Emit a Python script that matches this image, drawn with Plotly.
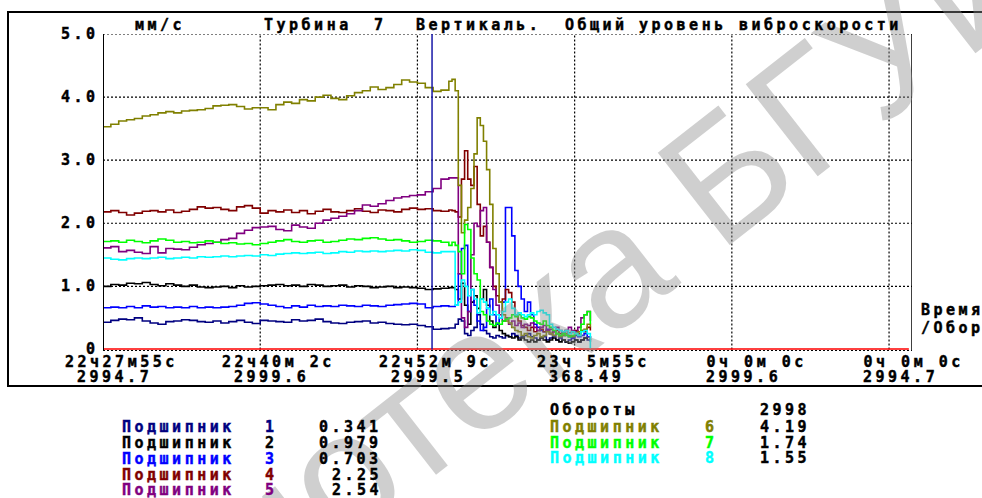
import plotly.graph_objects as go

# ---------------- data ----------------
# sample positions along the time axis, in grid divisions
x_pre = [round(0.05 * i, 2) for i in range(45)]
x_post = [round(2.22 + 0.02 * i, 2) for i in range(45)]
t = x_pre + x_post

s1_pre = [0.43,0.46,0.48,0.47,0.50, 0.45,0.42,0.40,0.44,0.45, 0.47,0.46,0.44,0.43,0.45,
          0.42,0.44,0.46,0.43,0.41, 0.46,0.45,0.44,0.43,0.47, 0.45,0.46,0.48,0.44,0.42,
          0.41,0.43,0.44,0.45,0.42, 0.43,0.41,0.40,0.39,0.40, 0.38,0.36,0.32,0.33,0.34]
s1_post = [0.34,0.40,0.48,0.45,0.25, 0.22,0.30,0.35,0.55,0.40, 0.30,0.25,0.20,0.18,0.22,
           0.20,0.18,0.22,0.20,0.25, 0.22,0.18,0.20,0.22,0.25, 0.20,0.18,0.15,0.18,0.20,
           0.15,0.18,0.20,0.15,0.18, 0.15,0.12,0.15,0.18,0.15, 0.12,0.15,0.18,0.15,0.12]

s2_pre = [1.00,1.03,1.02,1.05,1.04, 1.06,1.03,1.01,1.04,1.02, 1.00,1.02,0.99,0.98,0.99,
          1.00,0.98,1.01,0.99,1.00, 1.01,1.02,1.03,1.01,1.02, 1.00,1.03,1.02,1.00,1.01,
          1.02,0.99,1.01,1.00,0.98, 0.99,1.00,0.98,0.99,0.98, 0.97,0.95,0.96,0.97,0.98]
s2_post = [0.98,0.95,0.80,1.05,0.70, 0.40,0.75,0.85,0.65,0.80, 0.95,0.70,0.45,0.35,0.40,
           0.30,0.25,0.22,0.20,0.18, 0.20,0.15,0.18,0.15,0.12, 0.15,0.12,0.15,0.18,0.15,
           0.12,0.15,0.18,0.15,0.12, 0.15,0.12,0.10,0.12,0.15, 0.12,0.15,0.18,0.20,0.15]

s3_pre = [0.66,0.67,0.66,0.68,0.66, 0.69,0.67,0.68,0.66,0.67, 0.66,0.68,0.66,0.67,0.66,
          0.67,0.68,0.70,0.73,0.74, 0.72,0.70,0.68,0.66,0.69, 0.67,0.70,0.68,0.69,0.68,
          0.70,0.69,0.68,0.70,0.69, 0.68,0.70,0.71,0.72,0.73, 0.72,0.66,0.68,0.69,0.68]
s3_post = [0.68,0.70,1.20,1.60,1.65, 0.60,0.95,0.70,0.45,0.30, 0.35,0.65,0.80,0.55,0.40,
           0.50,0.75,2.25,2.25,1.80, 1.25,1.00,0.80,0.60,0.75, 0.55,0.40,0.35,0.30,0.28,
           0.32,0.25,0.22,0.25,0.20, 0.22,0.25,0.20,0.18,0.22, 0.20,0.22,0.25,0.20,0.18]

s4_pre = [2.18,2.20,2.17,2.13,2.16, 2.19,2.20,2.18,2.21,2.17, 2.19,2.22,2.26,2.24,2.25,
          2.22,2.20,2.26,2.28,2.24, 2.16,2.20,2.18,2.21,2.17, 2.20,2.15,2.19,2.22,2.18,
          2.17,2.20,2.23,2.19,2.17, 2.21,2.20,2.18,2.22,2.24, 2.22,2.23,2.20,2.19,2.21]
s4_post = [2.20,2.18,2.10,2.70,3.15, 2.70,2.60,2.90,2.30,1.80, 1.95,1.70,1.30,1.00,0.85,
           0.75,0.80,0.95,0.90,0.75, 0.55,0.45,0.38,0.35,0.30, 0.35,0.28,0.30,0.32,0.28,
           0.30,0.25,0.28,0.30,0.25, 0.28,0.30,0.26,0.28,0.30, 0.25,0.30,0.28,0.35,0.30]

s5_pre = [1.61,1.63,1.55,1.57,1.54, 1.52,1.63,1.53,1.60,1.59, 1.58,1.62,1.66,1.68,1.70,
          1.74,1.76,1.84,1.89,1.93, 1.94,1.95,1.90,1.88,1.97, 1.94,1.92,2.00,2.05,2.08,
          2.11,2.15,2.20,2.29,2.27, 2.31,2.36,2.40,2.42,2.44, 2.45,2.50,2.55,2.70,2.72]
s5_post = [2.72,2.72,1.20,0.50,0.35, 0.60,1.50,2.00,1.95,2.20, 2.25,1.70,1.30,0.95,0.70,
           0.55,0.45,0.50,0.40,0.45, 0.38,0.42,0.35,0.40,0.38, 0.42,0.35,0.30,0.35,0.38,
           0.30,0.32,0.28,0.35,0.30, 0.25,0.30,0.35,0.30,0.28, 0.35,0.50,0.55,0.60,0.45]

s6_pre = [3.53,3.57,3.62,3.64,3.66, 3.70,3.72,3.75,3.77,3.75, 3.78,3.79,3.80,3.82,3.86,
          3.87,3.88,3.85,3.81,3.83, 3.83,3.80,3.88,3.92,3.90, 3.96,3.94,4.00,4.03,3.98,
          3.96,4.02,4.07,4.10,4.16, 4.12,4.15,4.20,4.27,4.24, 4.22,4.15,4.09,4.11,4.25]
s6_post = [4.28,4.10,2.60,1.85,2.05, 2.25,2.55,3.10,3.67,3.55, 3.30,2.85,2.30,1.60,1.20,
           0.75,0.55,0.45,0.42,0.35, 0.30,0.28,0.22,0.25,0.20, 0.18,0.22,0.25,0.20,0.22,
           0.28,0.25,0.22,0.25,0.20, 0.22,0.25,0.22,0.20,0.25, 0.28,0.30,0.32,0.40,0.35]

s7_pre = [1.71,1.72,1.70,1.73,1.71, 1.69,1.72,1.75,1.73,1.70, 1.71,1.69,1.70,1.72,1.70,
          1.68,1.69,1.67,1.68,1.66, 1.68,1.70,1.72,1.74,1.71, 1.70,1.72,1.73,1.70,1.71,
          1.73,1.75,1.74,1.76,1.77, 1.75,1.73,1.74,1.72,1.70, 1.71,1.73,1.72,1.70,1.65]
s7_post = [1.70,1.65,1.55,1.20,1.98, 1.90,1.45,1.20,1.10,0.60, 0.55,0.45,0.40,0.38,0.42,
           0.40,0.45,0.48,0.50,0.55, 0.52,0.55,0.50,0.48,0.52, 0.50,0.45,0.42,0.40,0.45,
           0.38,0.35,0.30,0.25,0.22, 0.25,0.22,0.20,0.22,0.25, 0.22,0.40,0.55,0.60,0.40]

s8_pre = [1.45,1.43,1.42,1.44,1.45, 1.44,1.45,1.46,1.44,1.45, 1.46,1.45,1.47,1.46,1.47,
          1.48,1.47,1.48,1.49,1.48, 1.50,1.49,1.51,1.52,1.53, 1.52,1.53,1.54,1.52,1.53,
          1.55,1.54,1.56,1.55,1.56, 1.55,1.56,1.57,1.56,1.58, 1.57,1.54,1.53,1.55,1.55]
s8_post = [1.55,0.70,0.75,1.10,1.00, 0.85,0.95,0.80,0.58,0.80, 0.75,0.65,0.55,0.60,0.55,
           0.50,0.60,0.75,0.80,0.65, 0.55,0.58,0.55,0.52,0.55, 0.58,0.55,0.60,0.62,0.58,
           0.55,0.40,0.35,0.32,0.30, 0.28,0.30,0.25,0.28,0.25, 0.22,0.28,0.30,0.25,0.02]

series = [s1_pre + s1_post, s2_pre + s2_post, s3_pre + s3_post, s4_pre + s4_post,
          s5_pre + s5_post, s6_pre + s6_post, s7_pre + s7_post, s8_pre + s8_post]
colors = ["#000080", "#000000", "#0000FF", "#800000",
          "#800080", "#808000", "#00FF00", "#00FFFF"]

bearing_label = "Подшипник"
bearing_nums = ["1", "2", "3", "4", "5", "6", "7", "8"]
bearing_vals = ["0.341", "0.979", "0.703", "2.25", "2.54", "4.19", "1.74", "1.55"]
rpm_label = "Обороты"
rpm_val = "2998"

time_labels = ["22ч27м55с", "22ч40м 2с", "22ч52м 9с", "23ч 5м55с", " 0ч 0м 0с", " 0ч 0м 0с"]
rpm_labels = ["2994.7", "2999.6", "2999.5", "368.49", "2999.6", "2994.7"]
grid_x = [0, 1, 2, 3, 4, 5]
y_ticks = [5, 4, 3, 2, 1, 0]
y_ticktext = ["5.0", "4.0", "3.0", "2.0", "1.0", "0"]
title_words = ["мм/с", "Турбина", "7", "Вертикаль.", "Общий", "уровень", "виброскорости"]
title_pos = [133, 262, 372, 414, 563, 637, 737]
cursor_x = 2.093
x_max = 5.146

# ---------------- figure ----------------
L, R, T, B = 103, 70, 34, 147
W, H = 982, 498
PW, PH = W - L - R, H - T - B


def px(xp):
    return (xp - L) / PW


def py(yp):
    return (H - B - yp) / PH


FONT = "DejaVu Sans Mono"
FS = 15
LS = 3.5


def sp(s, color="black"):
    s = s.replace(" ", "\u00a0")
    return (f'<span style="letter-spacing:{LS}px;stroke:{color};stroke-width:0.45px">'
            f'<b>{s}</b></span>')


fig = go.Figure()

for vals, c in zip(series, colors):
    fig.add_trace(go.Scatter(x=t, y=vals, mode="lines", line=dict(color=c, width=1.6, shape="hv"),
                             hoverinfo="skip", showlegend=False))

shapes = []
dot = "2px,2px"
for gx in grid_x[1:]:
    shapes.append(dict(type="line", xref="x", yref="y", x0=gx, x1=gx, y0=0, y1=5,
                       line=dict(color="black", width=1.2, dash=dot), layer="below"))
for gy in [1, 2, 3, 4, 5]:
    shapes.append(dict(type="line", xref="x", yref="y", x0=0, x1=x_max, y0=gy, y1=gy,
                       line=dict(color="black", width=1.2, dash=dot), layer="below"))
shapes.append(dict(type="line", xref="x", yref="y", x0=0, x1=x_max, y0=-0.02, y1=-0.02,
                   line=dict(color="black", width=1.2, dash=dot), layer="below"))
shapes.append(dict(type="line", xref="x", yref="y", x0=0, x1=x_max - 0.02, y0=0.005, y1=0.005,
                   line=dict(color="#FF0000", width=1.5), layer="below"))
shapes.append(dict(type="line", xref="x", yref="y", x0=0, x1=0, y0=-0.025, y1=5,
                   line=dict(color="black", width=2)))
shapes.append(dict(type="line", xref="x", yref="y", x0=x_max, x1=x_max, y0=-0.025, y1=5,
                   line=dict(color="black", width=1.5)))
shapes.append(dict(type="line", xref="x", yref="y", x0=cursor_x, x1=cursor_x, y0=0, y1=5,
                   line=dict(color="#1818A8", width=1.5)))
shapes.append(dict(type="rect", xref="paper", yref="paper", x0=px(8), x1=px(1000),
                   y0=py(386), y1=py(12), line=dict(color="black", width=2), layer="below"))

ann = []


def text(x, y, s, color="black", anchor="left", xref="paper", xshift=0):
    ann.append(dict(x=x, y=y, xref=xref, yref="paper", text=sp(s, color), showarrow=False,
                    xanchor=anchor, yanchor="middle", xshift=xshift,
                    font=dict(family=FONT, size=FS, color=color, weight="bold")))


# watermark (drawn first so the chart texts sit on top of it)
ann.append(dict(x=px(515), y=py(338), xref="paper", yref="paper", text="Библиотека БГУИР",
                showarrow=False, textangle=-38, xanchor="center", yanchor="middle",
                font=dict(family="Liberation Sans", size=170, color="rgba(140,140,140,0.42)")))

# title row
for w, xp in zip(title_words, title_pos):
    text(px(xp), py(25), w)
# y tick labels
for v, s in zip(y_ticks, y_ticktext):
    ann.append(dict(x=0, y=v, xref="paper", yref="y", text=sp(s), showarrow=False,
                    xanchor="right", yanchor="middle", xshift=-2,
                    font=dict(family=FONT, size=FS, color="black", weight="bold")))
# x tick labels (two rows)
for gx, s1, s2 in zip(grid_x, time_labels, rpm_labels):
    text(gx, py(362), s1, xref="x", xshift=-40)
    text(gx, py(377), s2, xref="x", xshift=-28)
text(px(919), py(310), "Время")
text(px(919), py(328), "/Обор")

rows_left = [427, 443, 459, 475, 490]
for i, yy in enumerate(rows_left):
    text(px(120), py(yy), bearing_label, color=colors[i])
    text(px(263), py(yy), bearing_nums[i], color=colors[i])
    text(px(384), py(yy), bearing_vals[i], anchor="right")
text(px(548), py(410), rpm_label)
text(px(812), py(410), rpm_val, anchor="right")
rows_right = [427, 443, 458]
for j, yy in enumerate(rows_right):
    i = 5 + j
    text(px(548), py(yy), bearing_label, color=colors[i])
    text(px(703), py(yy), bearing_nums[i], color=colors[i])
    text(px(812), py(yy), bearing_vals[i], anchor="right")

fig.update_layout(
    width=W, height=H,
    margin=dict(l=L, r=R, t=T, b=B),
    paper_bgcolor="white", plot_bgcolor="white",
    showlegend=False,
    xaxis=dict(range=[0, x_max], visible=False, fixedrange=True),
    yaxis=dict(range=[-0.025, 5.0], visible=False, fixedrange=True),
    shapes=shapes, annotations=ann,
)

fig.write_html("out.html", config={"displayModeBar": False, "staticPlot": True},
               post_script="document.body.style.margin='0px';")
